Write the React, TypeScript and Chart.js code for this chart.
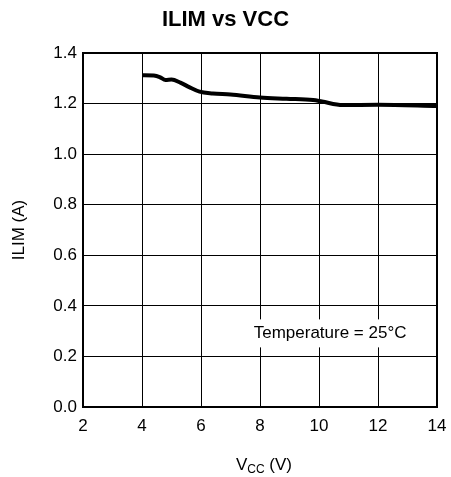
import React, { useEffect, useRef } from "react";
import { Chart, registerables } from "chart.js";

Chart.register(...registerables);

// Supply voltage (V) and current limit (A) along the 25°C curve
const vccVolts = [4.0, 4.4, 4.6, 4.8, 5.0, 5.3, 5.6, 5.95, 6.4, 7.0, 8.0, 8.9, 9.8, 10.1, 10.8, 12.0, 14.0];
const ilimAmps = [1.312, 1.311, 1.305, 1.293, 1.295, 1.283, 1.265, 1.247, 1.24, 1.236, 1.224, 1.219, 1.214, 1.208, 1.194, 1.195, 1.19];

const xTicks = [2, 4, 6, 8, 10, 12, 14];
const yTicks = [0, 0.2, 0.4, 0.6, 0.8, 1.0, 1.2, 1.4];

const chartTitle = "ILIM vs VCC";
const yTitle = "ILIM (A)";
const xTitleMain = "V";
const xTitleSub = "CC";
const xTitleTail = " (V)";
const noteText = "Temperature = 25°C";

const FONT = "Arial, 'Liberation Sans', Helvetica, sans-serif";

const W = 451;
const H = 477;

const decorPlugin = {
  id: "decor",
  afterDraw(chart: any) {
    const ctx = chart.ctx as CanvasRenderingContext2D;
    const area = chart.chartArea;
    ctx.save();

    // plot frame
    ctx.strokeStyle = "#000";
    ctx.lineWidth = 2;
    ctx.strokeRect(area.left, area.top, area.right - area.left, area.bottom - area.top);

    // chart title
    ctx.fillStyle = "#000";
    ctx.font = `bold 22px ${FONT}`;
    ctx.textAlign = "center";
    ctx.textBaseline = "alphabetic";
    ctx.fillText(chartTitle, chart.width / 2, 26);

    // x axis title with subscript
    const cx = (area.left + area.right) / 2 + 4;
    const base = 470;
    ctx.font = `17px ${FONT}`;
    const wMain = ctx.measureText(xTitleMain).width;
    const wTail = ctx.measureText(xTitleTail).width;
    ctx.font = `12px ${FONT}`;
    const wSub = ctx.measureText(xTitleSub).width;
    let x = cx - (wMain + wSub + wTail) / 2;
    ctx.textAlign = "left";
    ctx.font = `17px ${FONT}`;
    ctx.fillText(xTitleMain, x, base);
    x += wMain;
    ctx.font = `12px ${FONT}`;
    ctx.fillText(xTitleSub, x, base + 3);
    x += wSub;
    ctx.font = `17px ${FONT}`;
    ctx.fillText(xTitleTail, x, base);

    // y axis title
    ctx.save();
    ctx.translate(19, (area.top + area.bottom) / 2);
    ctx.rotate(-Math.PI / 2);
    ctx.textAlign = "center";
    ctx.textBaseline = "middle";
    ctx.font = `17px ${FONT}`;
    ctx.fillText(yTitle, 0, 0);
    ctx.restore();

    // condition note on a white box
    const nx = area.left + (area.right - area.left) * 0.698;
    const ny = area.top + (area.bottom - area.top) * 0.792;
    ctx.font = `17px ${FONT}`;
    const tw = ctx.measureText(noteText).width;
    ctx.fillStyle = "#fff";
    ctx.fillRect(nx - tw / 2 - 6, ny - 14, tw + 12, 28);
    ctx.fillStyle = "#000";
    ctx.textAlign = "center";
    ctx.textBaseline = "middle";
    ctx.fillText(noteText, nx, ny);

    ctx.restore();
  },
};

export default function App() {
  const canvasRef = useRef<HTMLCanvasElement | null>(null);

  useEffect(() => {
    const canvas = canvasRef.current;
    if (!canvas) return;
    const points = vccVolts.map((v, i) => ({ x: v, y: ilimAmps[i] }));
    const chart = new Chart(canvas, {
      type: "line",
      data: {
        datasets: [
          {
            data: points,
            borderColor: "#000",
            borderWidth: 4,
            pointRadius: 0,
            fill: false,
            cubicInterpolationMode: "monotone",
          },
        ],
      },
      options: {
        responsive: false,
        animation: false,
        devicePixelRatio: 1,
        layout: { padding: { top: 53, right: 14, bottom: 0, left: 0 } },
        plugins: {
          legend: { display: false },
          tooltip: { enabled: false },
          title: { display: false },
        },
        scales: {
          x: {
            type: "linear",
            min: xTicks[0],
            max: xTicks[xTicks.length - 1],
            afterBuildTicks: (axis: any) => {
              axis.ticks = xTicks.map((v) => ({ value: v }));
            },
            afterFit: (axis: any) => {
              axis.height = 70;
              axis.paddingLeft = 0;
              axis.paddingRight = 0;
            },
            grid: { color: "#000", lineWidth: 1, drawTicks: false },
            border: { color: "#000", width: 2 },
            ticks: {
              color: "#000",
              font: { family: FONT, size: 17 },
              padding: 9,
              maxRotation: 0,
              callback: (v: any) => String(v),
            },
          },
          y: {
            type: "linear",
            min: yTicks[0],
            max: yTicks[yTicks.length - 1],
            afterBuildTicks: (axis: any) => {
              axis.ticks = yTicks.map((v) => ({ value: v }));
            },
            afterFit: (axis: any) => {
              axis.width = 83;
              axis.paddingTop = 0;
              axis.paddingBottom = 0;
            },
            grid: { color: "#000", lineWidth: 1, drawTicks: false },
            border: { color: "#000", width: 2 },
            ticks: {
              color: "#000",
              font: { family: FONT, size: 17 },
              padding: 6,
              callback: (v: any) => Number(v).toFixed(1),
            },
          },
        },
      },
      plugins: [decorPlugin],
    });
    return () => chart.destroy();
  }, []);

  return (
    <div style={{ position: "fixed", left: 0, top: 0, width: W, height: H, background: "#fff" }}>
      <canvas ref={canvasRef} width={W} height={H} style={{ width: W, height: H, display: "block" }} />
    </div>
  );
}
